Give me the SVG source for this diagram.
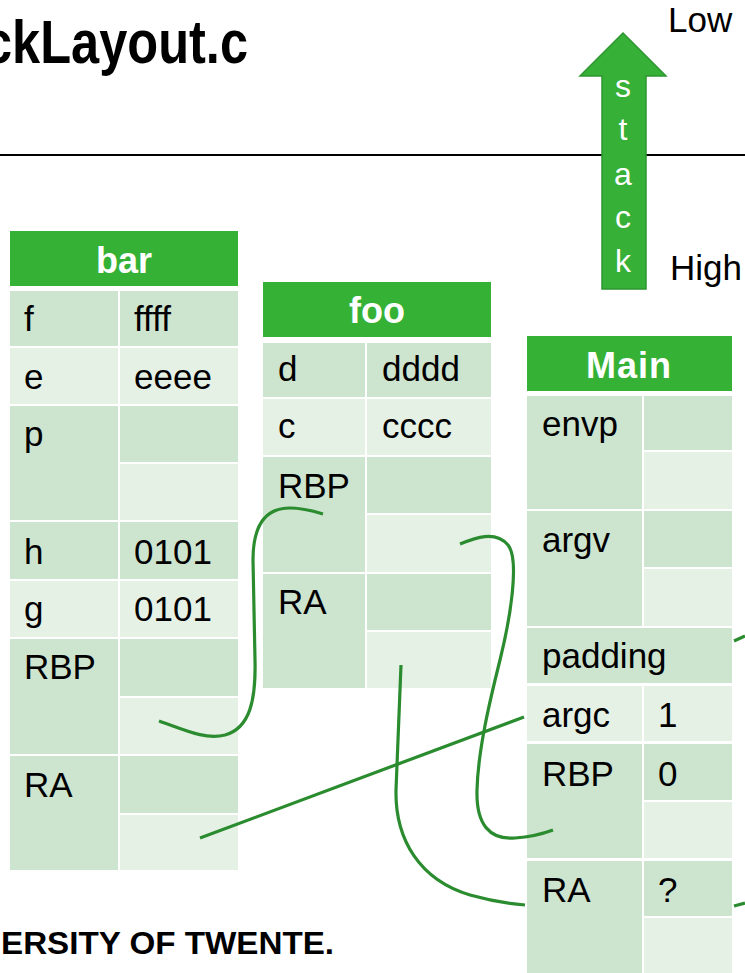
<svg xmlns="http://www.w3.org/2000/svg" width="745" height="973" viewBox="0 0 745 973">
  <style>
    .hd { fill: #35b236; }
    .dk { fill: #cde4cf; }
    .lt { fill: #e6f1e6; }
    .hdt { font-family: "Liberation Sans", Arial, sans-serif; font-size: 36px; font-weight: bold; fill: #ffffff; text-anchor: middle; }
    .ct { font-family: "Liberation Sans", Arial, sans-serif; font-size: 35px; fill: #000000; }
    .lbl { font-family: "Liberation Sans", Arial, sans-serif; font-size: 35px; fill: #000000; }
    .stk { font-family: "Liberation Sans", Arial, sans-serif; font-size: 32px; fill: #ffffff; text-anchor: middle; }
    .link { fill: none; stroke: #2a8c2e; stroke-width: 3.2; stroke-linecap: butt; }
  </style>

  <rect x="0" y="0" width="745" height="973" fill="#ffffff"/>

  <!-- slide title and rule -->
  <text x="-16" y="63" font-family="Liberation Sans, Arial, sans-serif" font-size="61" font-weight="bold" textLength="264" lengthAdjust="spacingAndGlyphs">ckLayout.c</text>
  <line x1="0" y1="155" x2="745" y2="155" stroke="#000000" stroke-width="2"/>

  <!-- stack growth arrow -->
  <g id="stack-arrow">
    <polygon points="623,33 666,76 646,76 646,289 602,289 602,76 580,76" fill="#36b037" stroke="#2e9530" stroke-width="1.5"/>
    <text class="stk" x="623" y="97">s</text>
    <text class="stk" x="623" y="140">t</text>
    <text class="stk" x="623" y="185">a</text>
    <text class="stk" x="623" y="228">c</text>
    <text class="stk" x="623" y="272">k</text>
  </g>
  <text class="lbl" x="668" y="32">Low</text>
  <text class="lbl" x="670" y="280">High</text>

  <!-- frame of bar -->
  <g id="bar">
    <rect class="hd" x="10" y="231" width="228" height="55"/>
    <text class="hdt" x="124" y="273">bar</text>
    <rect class="dk" x="10" y="291" width="108" height="55"/>
    <rect class="dk" x="120" y="291" width="118" height="55"/>
    <rect class="lt" x="10" y="348" width="108" height="56"/>
    <rect class="lt" x="120" y="348" width="118" height="56"/>
    <rect class="dk" x="10" y="406" width="108" height="114"/>
    <rect class="dk" x="120" y="406" width="118" height="56"/>
    <rect class="lt" x="120" y="464" width="118" height="56"/>
    <rect class="dk" x="10" y="522" width="108" height="57"/>
    <rect class="dk" x="120" y="522" width="118" height="57"/>
    <rect class="lt" x="10" y="581" width="108" height="56"/>
    <rect class="lt" x="120" y="581" width="118" height="56"/>
    <rect class="dk" x="10" y="639" width="108" height="115"/>
    <rect class="dk" x="120" y="639" width="118" height="57"/>
    <rect class="lt" x="120" y="698" width="118" height="56"/>
    <rect class="dk" x="10" y="756" width="108" height="114"/>
    <rect class="dk" x="120" y="756" width="118" height="57"/>
    <rect class="lt" x="120" y="815" width="118" height="55"/>
    <text class="ct" x="24" y="331">f</text>
    <text class="ct" x="134" y="331">ffff</text>
    <text class="ct" x="24" y="389">e</text>
    <text class="ct" x="134" y="389">eeee</text>
    <text class="ct" x="24" y="446">p</text>
    <text class="ct" x="24" y="564">h</text>
    <text class="ct" x="134" y="564">0101</text>
    <text class="ct" x="24" y="621">g</text>
    <text class="ct" x="134" y="621">0101</text>
    <text class="ct" x="24" y="679">RBP</text>
    <text class="ct" x="24" y="797">RA</text>
  </g>

  <!-- frame of foo -->
  <g id="foo">
    <rect class="hd" x="263" y="282" width="228" height="55"/>
    <text class="hdt" x="377" y="323">foo</text>
    <rect class="dk" x="263" y="343" width="102" height="54"/>
    <rect class="dk" x="367" y="343" width="124" height="54"/>
    <rect class="lt" x="263" y="399" width="102" height="56"/>
    <rect class="lt" x="367" y="399" width="124" height="56"/>
    <rect class="dk" x="263" y="457" width="102" height="115"/>
    <rect class="dk" x="367" y="457" width="124" height="56"/>
    <rect class="lt" x="367" y="515" width="124" height="57"/>
    <rect class="dk" x="263" y="574" width="102" height="114"/>
    <rect class="dk" x="367" y="574" width="124" height="56"/>
    <rect class="lt" x="367" y="632" width="124" height="56"/>
    <text class="ct" x="278" y="381">d</text>
    <text class="ct" x="382" y="381">dddd</text>
    <text class="ct" x="278" y="438">c</text>
    <text class="ct" x="382" y="438">cccc</text>
    <text class="ct" x="278" y="498">RBP</text>
    <text class="ct" x="278" y="614">RA</text>
  </g>

  <!-- frame of Main -->
  <g id="main">
    <rect class="hd" x="527" y="336" width="205" height="55"/>
    <text class="hdt" x="629" y="378" letter-spacing="1">Main</text>
    <rect class="dk" x="527" y="396" width="115" height="113"/>
    <rect class="dk" x="644" y="396" width="88" height="54"/>
    <rect class="lt" x="644" y="452" width="88" height="57"/>
    <rect class="dk" x="527" y="511" width="115" height="115"/>
    <rect class="dk" x="644" y="511" width="88" height="56"/>
    <rect class="lt" x="644" y="569" width="88" height="57"/>
    <rect class="dk" x="527" y="628" width="205" height="55"/>
    <rect class="lt" x="527" y="686" width="115" height="55"/>
    <rect class="lt" x="644" y="686" width="88" height="55"/>
    <rect class="dk" x="527" y="744" width="115" height="114"/>
    <rect class="dk" x="644" y="744" width="88" height="56"/>
    <rect class="lt" x="644" y="802" width="88" height="56"/>
    <rect class="dk" x="527" y="861" width="115" height="112"/>
    <rect class="dk" x="644" y="861" width="88" height="55"/>
    <rect class="lt" x="644" y="918" width="88" height="55"/>
    <text class="ct" x="542" y="436">envp</text>
    <text class="ct" x="542" y="552">argv</text>
    <text class="ct" x="542" y="668">padding</text>
    <text class="ct" x="542" y="727">argc</text>
    <text class="ct" x="658" y="727">1</text>
    <text class="ct" x="542" y="786">RBP</text>
    <text class="ct" x="658" y="786">0</text>
    <text class="ct" x="542" y="902">RA</text>
    <text class="ct" x="658" y="902">?</text>
  </g>

  <!-- saved base pointers and return addresses -->
  <g id="links">
    <path class="link" d="M159,721 C185,730 205,740 225,735 C250,728 256,700 255,660 L253,560 C253,525 265,508 290,508 C302,508 313,511 323,514"/>
    <path class="link" d="M460,544 C475,538 495,530 508,545 C520,560 510,620 500,660 C490,700 478,750 477,790 C476,825 490,840 515,838 C530,837 545,833 553,830"/>
    <path class="link" d="M200,838 L524,717"/>
    <path class="link" d="M401,665 L396,790 C395,840 420,880 470,895 C495,902 512,904 525,905"/>
    <path class="link" d="M734,641 L745,636"/>
    <path class="link" d="M734,906 L745,903"/>
  </g>

  <!-- footer -->
  <text x="1" y="954" font-family="Liberation Sans, Arial, sans-serif" font-size="31" font-weight="bold" textLength="333" lengthAdjust="spacingAndGlyphs">ERSITY OF TWENTE.</text>
</svg>
